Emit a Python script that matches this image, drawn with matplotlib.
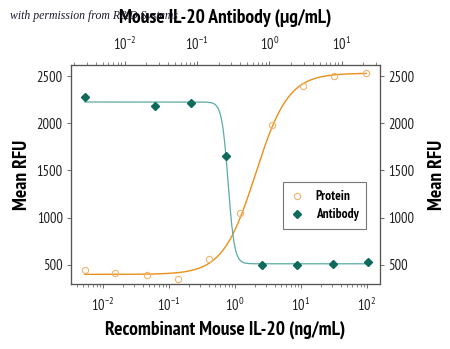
import numpy as np
import matplotlib
matplotlib.use("Agg")
import matplotlib.pyplot as plt
from matplotlib.ticker import LogLocator, NullFormatter, FixedLocator

plt.rcParams['font.family'] = ['PT Sans Narrow', 'DejaVu Sans']
plt.rcParams['mathtext.fontset'] = 'custom'
plt.rcParams['mathtext.rm'] = 'PT Sans Narrow'
plt.rcParams['mathtext.it'] = 'PT Sans Narrow:italic'
plt.rcParams['mathtext.bf'] = 'PT Sans Narrow:bold'

# Data
protein_conc = [0.0053, 0.0154, 0.046, 0.137, 0.41, 1.2, 3.6, 10.8, 32, 97]
protein_rfu = [450, 412, 394, 351, 561, 1046, 1986, 2397, 2504, 2532]

antibody_conc = [0.00284, 0.0267, 0.083, 0.255, 0.79, 2.45, 7.6, 23]
antibody_rfu = [2280, 2188, 2213, 1649, 500, 500, 514, 532]

# Fitted 4-parameter logistic curve parameters (bottom, top, EC50, hill)
protein_fit = [400, 2530, 2.05, 1.75]
antibody_fit = [512, 2225, 0.27, 10.0]

y_ticks = [500, 1000, 1500, 2000, 2500]

c_prot_m = '#F2B36A'
c_prot_l = '#E8901A'
c_ab_m = '#0C6B5A'
c_ab_l = '#5AABA5'

fig = plt.figure(figsize=(4.5, 3.49), dpi=100)
ax = fig.add_axes([71/450, 1-284/349, (380-71)/450, (284-65)/349])

ax.set_xscale('log')
ax.set_xlim(10**-2.485, 10**2.197)
ax.set_ylim(298, 2617)

xs = np.logspace(np.log10(0.0053), np.log10(97), 400)
b, t, ec, h = protein_fit
ax.plot(xs, b + (t - b) / (1 + (ec / xs) ** h), color=c_prot_l, lw=1.0, zorder=2)
pr, = ax.plot(protein_conc, protein_rfu, 'o', mfc='none', mec=c_prot_m, ms=4.5, mew=0.8,
              zorder=3, label='Protein')

ax2 = ax.twiny()
ax2.set_xscale('log')
ax2.set_xlim(10**-2.74, 10**1.53)
xa = np.logspace(np.log10(0.00284), np.log10(23), 400)
b, t, ec, h = antibody_fit
ax2.plot(xa, b + (t - b) / (1 + (xa / ec) ** h), color=c_ab_l, lw=0.9, zorder=2)
ab, = ax2.plot(antibody_conc, antibody_rfu, 'D', color=c_ab_m, ms=3.8, zorder=3, label='Antibody')

ax3 = ax.twinx()
ax3.set_ylim(ax.get_ylim())
for a in (ax, ax3):
    a.set_yticks(y_ticks)
    a.tick_params(axis='y', labelsize=10.5, length=3, width=0.6, color='#555555', pad=3,
                  labelcolor='#222222')

for a, loc in ((ax, [0.01, 0.1, 1, 10, 100]), (ax2, [0.01, 0.1, 1, 10])):
    a.xaxis.set_major_locator(FixedLocator(loc))
    a.xaxis.set_minor_locator(LogLocator(base=10, subs=np.arange(2, 10)))
    a.xaxis.set_minor_formatter(NullFormatter())
    a.tick_params(axis='x', which='major', labelsize=10.5, length=3, width=0.6, color='#555555', pad=6,
                  labelcolor='#222222')
    a.tick_params(axis='x', which='minor', length=2, width=0.5, color='#555555')

for a in (ax, ax2, ax3):
    for s in a.spines.values():
        s.set_color('#555555')
        s.set_linewidth(0.8)

ax.set_xlabel('Recombinant Mouse IL-20 (ng/mL)', fontsize=14, fontweight='bold', labelpad=5)
ax2.set_xlabel('Mouse IL-20 Antibody (\u03bcg/mL)', fontsize=14, fontweight='bold', labelpad=9)
ax.set_ylabel('Mean RFU', fontsize=14, fontweight='bold', labelpad=4)
ax3.set_ylabel('Mean RFU', fontsize=14, fontweight='bold', labelpad=10)

leg = ax.legend(handles=[pr, ab], loc='upper left',
                bbox_to_anchor=((282.7-71)/309, (284-182.3)/219), borderaxespad=0,
                frameon=True, fancybox=False, edgecolor='#555555',
                prop={'family': 'PT Sans Narrow', 'weight': 'bold', 'size': 9.5},
                handletextpad=0.9, borderpad=0.6, labelspacing=0.4, handlelength=1.0)
leg.get_frame().set_linewidth(0.8)

fig.text(10/450, 1-16/349, 'with permission from R&D Systems', fontsize=8.5, family='Liberation Serif',
         style='italic', color='#1a1a2e', va='center', ha='left', zorder=10)

fig.savefig('out.png', dpi=100)
